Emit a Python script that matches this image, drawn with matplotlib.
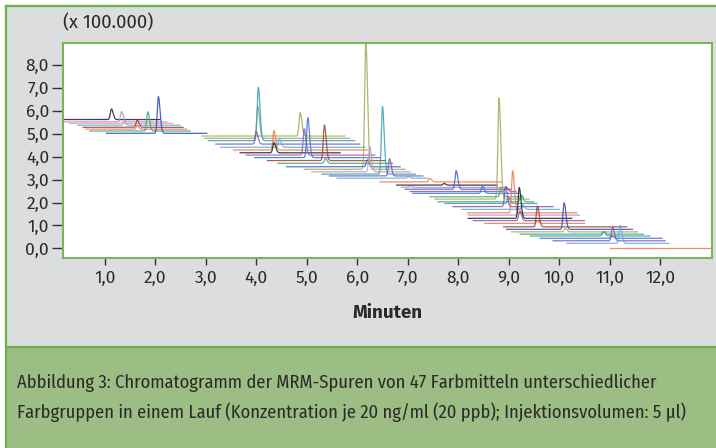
import numpy as np
import matplotlib
matplotlib.use('Agg')
import matplotlib.pyplot as plt
from matplotlib.patches import Rectangle
from matplotlib.lines import Line2D

plt.rcParams['font.family'] = ['Fira Sans', 'DejaVu Sans']
caption_font = ['Fira Sans Condensed', 'DejaVu Sans']

# MRM traces, listed top to bottom: start/end of the trace (min), baseline offset,
# retention time of the peak (min), peak height above baseline, colour
t_start = [0.17, 0.17, 0.30, 0.46, 0.57, 0.62, 0.70, 1.03,
           2.92, 2.98, 3.05, 3.20, 3.30, 3.55, 3.68, 3.80, 3.97, 4.22, 4.43, 4.60,
           4.95, 5.10, 5.30, 5.45, 5.60,
           6.45, 6.78, 6.88, 6.95, 7.05, 7.10, 7.44, 7.54, 7.60, 7.74, 7.90, 8.07,
           8.18, 8.20, 8.20, 8.30, 8.53, 8.90, 8.96, 9.06, 9.23, 9.43, 9.62, 9.88,
           10.15, 11.01]
t_end = [2.09, 2.23, 2.35, 2.49, 2.55, 2.62, 2.69, 3.02,
         5.75, 5.85, 5.95, 6.05, 6.15, 6.20, 5.66, 6.35, 6.45, 6.55, 6.70, 6.85,
         6.95, 7.05, 7.15, 7.30, 7.40,
         8.85, 8.77, 8.96, 9.05, 9.15, 9.20, 9.29, 9.40, 9.50, 9.56, 9.88, 10.00,
         10.35, 10.40, 10.25, 10.50, 10.50, 11.34, 11.45, 11.55, 11.67, 11.80, 12.04, 12.10,
         12.17, 13.05]
base = [5.62, 5.52, 5.45, 5.37, 5.28, 5.20, 5.12, 5.02,
        4.90, 4.80, 4.70, 4.55, 4.41, 4.29, 4.17, 4.07, 3.96, 3.83, 3.71, 3.56,
        3.45, 3.34, 3.24, 3.16, 3.06,
        2.90, 2.76, 2.66, 2.58, 2.48, 2.40, 2.25, 2.15, 2.03, 1.96, 1.82, 1.70,
        1.55, 1.45, 1.31, 1.21, 1.09, 0.94, 0.83, 0.72, 0.62, 0.54, 0.44, 0.33,
        0.22, 0.00]
peak_rt = [1.13, 1.33, 1.36, 1.38, 1.64, 1.64, 1.85, 2.06,
           4.87, 4.03, 4.04, 4.00, 4.46, 4.35, 4.35, 4.95, 5.02, 5.35, 5.37, 6.20,
           6.17, 6.25, 6.50, 6.64, 7.01,
           7.44, 7.72, 7.05, 7.96, 8.95, 8.48, 8.85, 8.81, 9.25, 9.00, 8.94, 9.28,
           9.08, 9.20, 9.21, 9.22, 9.57, 9.57, 10.10, 10.12, 10.88, 10.88, 11.05, 11.06,
           11.21, 11.50]
peak_h = [0.46, 0.45, 0.10, 0.12, 0.33, 0.15, 0.84, 1.60,
          1.02, 1.40, 2.33, 0.55, 0.35, 0.85, 0.44, 1.15, 1.74, 1.55, 0.20, 0.30,
          5.60, 1.10, 2.95, 0.75, 0.08,
          0.15, 0.07, 0.05, 0.81, 0.20, 0.32, 0.40, 4.40, 0.30, 0.25, 0.87, 0.20,
          1.84, 0.30, 1.35, 0.40, 0.10, 0.91, 1.16, 0.15, 0.11, 0.19, 0.10, 0.60,
          0.78, 0.00]
colors = ['#202020', '#c08ad0', '#e89aa8', '#5ab0e0', '#a04030', '#f07850', '#40a878', '#3048b8',
          '#a8a858', '#88b070', '#38a0b0', '#8058b0', '#5ab0e0', '#f07850', '#202020', '#9060c0',
          '#4070d0', '#a04030', '#40a878', '#4060c8',
          '#a8a858', '#b0a0c0', '#38a0b0', '#8058b0', '#5ab0e0',
          '#f07850', '#202020', '#c08ad0', '#4060c8', '#8058b0', '#4070d0', '#40a878', '#a8a858',
          '#40a878', '#38a0b0', '#8058b0', '#5ab0e0', '#f07850', '#c08ad0', '#202020', '#8058b0',
          '#f07850', '#a04030', '#3048b8', '#a8a858', '#40a878', '#38a0b0', '#4070d0', '#8058b0',
          '#5ab0e0', '#f07850']

y_ticks = [0, 1, 2, 3, 4, 5, 6, 7, 8]
y_tick_labels = ['0,0', '1,0', '2,0', '3,0', '4,0', '5,0', '6,0', '7,0', '8,0']
x_ticks = [1, 2, 3, 4, 5, 6, 7, 8, 9, 10, 11, 12]
x_tick_labels = ['1,0', '2,0', '3,0', '4,0', '5,0', '6,0', '7,0', '8,0', '9,0', '10,0', '11,0', '12,0']

caption_lines = ['Abbildung 3: Chromatogramm der MRM-Spuren von 47 Farbmitteln unterschiedlicher',
                 'Farbgruppen in einem Lauf (Konzentration je 20 ng/ml (20 ppb); Injektionsvolumen: 5 µl)']

panel_grey = '#dcdddf'
caption_green = '#9cbe84'
border_green = '#6db04a'
text_col = '#2a2a2a'


def peak_shape(x, rt, h):
    # slightly tailing peak: narrower front, wider back
    sig = np.where(x < rt, 0.022, 0.034)
    return h * np.exp(-0.5 * ((x - rt) / sig) ** 2)


W, H = 716, 448
fig = plt.figure(figsize=(W / 100, H / 100), dpi=100, facecolor='white')

# grey panel, green caption band and the framing lines
fig.add_artist(Rectangle((6 / W, 101 / H), 1 - 6 / W, 341 / H, transform=fig.transFigure,
                         facecolor=panel_grey, edgecolor='none', zorder=0))
fig.add_artist(Rectangle((6 / W, 0), 1 - 6 / W, 101 / H, transform=fig.transFigure,
                         facecolor=caption_green, edgecolor='none', zorder=0))
fig.add_artist(Line2D([6 / W, 1], [1 - 6 / H, 1 - 6 / H], transform=fig.transFigure,
                      color=border_green, lw=1.6))
fig.add_artist(Line2D([6 / W, 6 / W], [0, 1 - 6 / H], transform=fig.transFigure,
                      color=border_green, lw=1.6))
fig.add_artist(Line2D([6 / W, 1], [101 / H, 101 / H], transform=fig.transFigure,
                      color=border_green, lw=1.6))

ax = fig.add_axes([63 / W, 1 - 258 / H, (712 - 63) / W, (258 - 43) / H])
ax.set_facecolor('white')

for i in range(len(base)):
    x = np.linspace(t_start[i], t_end[i], 600)
    y = base[i] + peak_shape(x, peak_rt[i], peak_h[i])
    ax.plot(x, y, color=colors[i], lw=0.9, alpha=0.85, solid_joinstyle='round')

ax.set_xlim(0.17, 13.03)
ax.set_ylim(-0.42, 8.96)

ax.set_yticks(y_ticks)
ax.set_yticklabels(y_tick_labels)
ax.set_xticks(x_ticks)
ax.set_xticklabels(x_tick_labels)
ax.tick_params(axis='y', direction='out', length=8, width=1, color='#333333',
               labelsize=12.5, labelcolor=text_col, pad=2)
ax.tick_params(axis='x', direction='out', length=5, width=1, color='#333333',
               labelsize=12.5, labelcolor=text_col, pad=4)
for s in ax.spines.values():
    s.set_color('#7ab55c')
    s.set_linewidth(1.5)

fig.text(63 / W, 1 - 23 / H, '(x 100.000)', ha='left', va='center', fontsize=13.3, color=text_col)
fig.text(387 / W, 1 - 313 / H, 'Minuten', ha='center', va='center', fontsize=13.5,
         fontweight='bold', color=text_col)
fig.text(17 / W, 1 - 383 / H, caption_lines[0], ha='left', va='center', fontsize=13.3,
         family=caption_font, color=text_col)
fig.text(17 / W, 1 - 412 / H, caption_lines[1], ha='left', va='center', fontsize=13.3,
         family=caption_font, color=text_col)

fig.savefig('out.png', dpi=100, facecolor=fig.get_facecolor())
